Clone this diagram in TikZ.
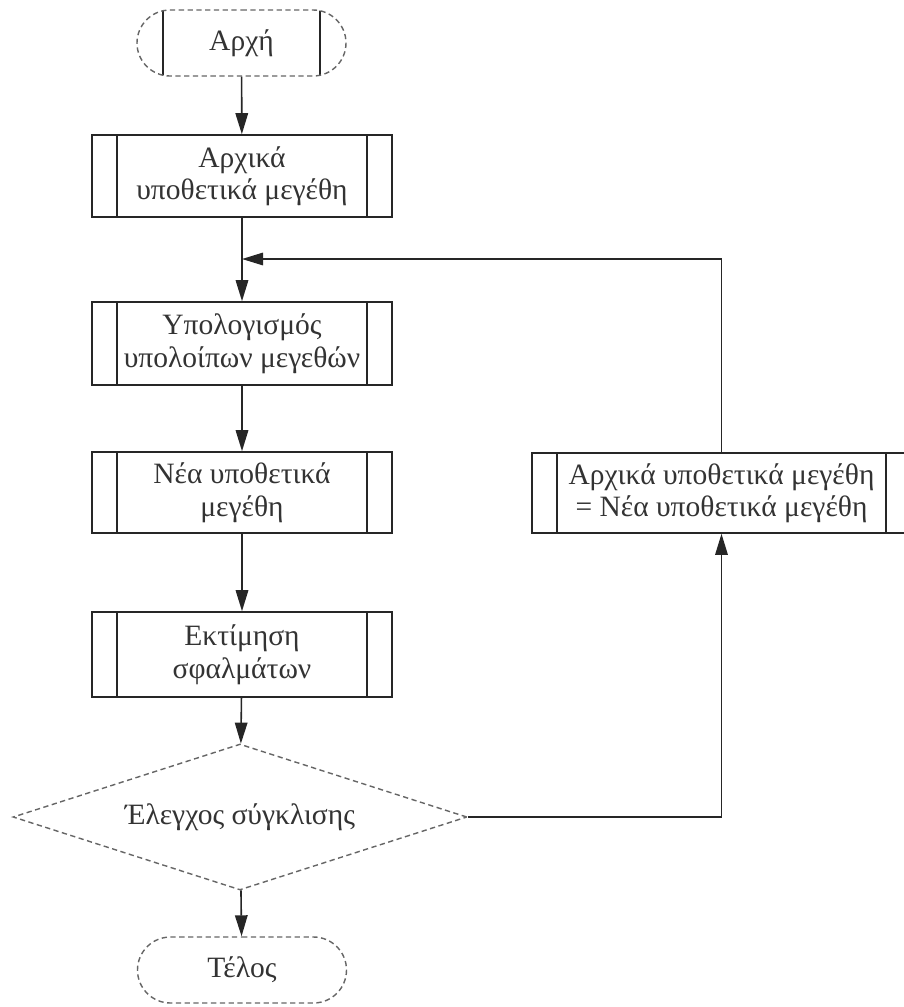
\documentclass[tikz,border=0pt]{standalone}
\usepackage{fontspec}
\setmainfont{Liberation Serif}
\usetikzlibrary{arrows.meta,shapes.geometric,shapes.misc}

\tikzset{
  >={Triangle[length=0.42cm,width=0.25cm]},
  flow/.style={draw=black!85,line width=0.9pt},
  txt/.style={text=black!80,font=\fontsize{16.8}{18.5}\selectfont,align=center,inner sep=0pt},
  process/.style={flow,txt,rectangle,minimum width=6cm,minimum height=1.64cm,
    path picture={
      \draw[black!85,line width=0.9pt]
        ([xshift=0.5cm]path picture bounding box.north west) -- ([xshift=0.5cm]path picture bounding box.south west)
        ([xshift=-0.5cm]path picture bounding box.north east) -- ([xshift=-0.5cm]path picture bounding box.south east);}},
  terminal/.style={draw=black!60,line width=0.8pt,densely dashed,txt,rounded rectangle,
    minimum width=4.18cm,minimum height=1.32cm},
  decision/.style={draw=black!60,line width=0.8pt,densely dashed,txt,diamond,aspect=3.11,
    minimum width=9.08cm,minimum height=2.92cm}
}

\begin{document}
\begin{tikzpicture}
%\draw[help lines] (0,0) grid (18,-20);
\useasboundingbox (0,0) rectangle (18.06,-20.14);

\node (start) at (4.83,-0.86) [terminal,
  path picture={
    \draw[black!85,line width=0.9pt,solid]
      ([xshift=0.52cm]path picture bounding box.north west) -- ([xshift=0.52cm]path picture bounding box.south west)
      ([xshift=-0.52cm]path picture bounding box.north east) -- ([xshift=-0.52cm]path picture bounding box.south east);}]
  {Αρχή};
\node (init) at (4.84,-3.52) [process] {Αρχικά\\υποθετικά μεγέθη};
\node (calc) at (4.84,-6.87) [process,minimum height=1.66cm] {Υπολογισμός\\υπολοίπων μεγεθών};
\node (new) at (4.84,-9.85) [process,minimum height=1.62cm] {Νέα υποθετικά\\μεγέθη};
\node (err) at (4.84,-13.09) [process,minimum height=1.7cm] {Εκτίμηση\\σφαλμάτων};
\node (conv) at (4.80,-16.34) [decision] {Έλεγχος σύγκλισης};
\node (stop) at (4.84,-19.40) [terminal] {Τέλος};
\node (upd) at (14.43,-9.86) [process,minimum width=7.58cm,minimum height=1.6cm]
  {Αρχικά υποθετικά μεγέθη\\= Νέα υποθετικά μεγέθη};
\coordinate (join) at (4.84,-5.18);

\draw [flow,->] (start) -- (init);
\draw [flow,->] (init) -- (calc);
\draw [flow,->] (calc) -- (new);
\draw [flow,->] (new) -- (err);
\draw [flow,->] (err) -- (conv);
\draw [flow,->] (conv) -- (stop);

% loop back
\draw [flow,->] (conv.east) -| (upd.south);
\draw [flow,->] (upd.north) |- (join);
\end{tikzpicture}
\end{document}
